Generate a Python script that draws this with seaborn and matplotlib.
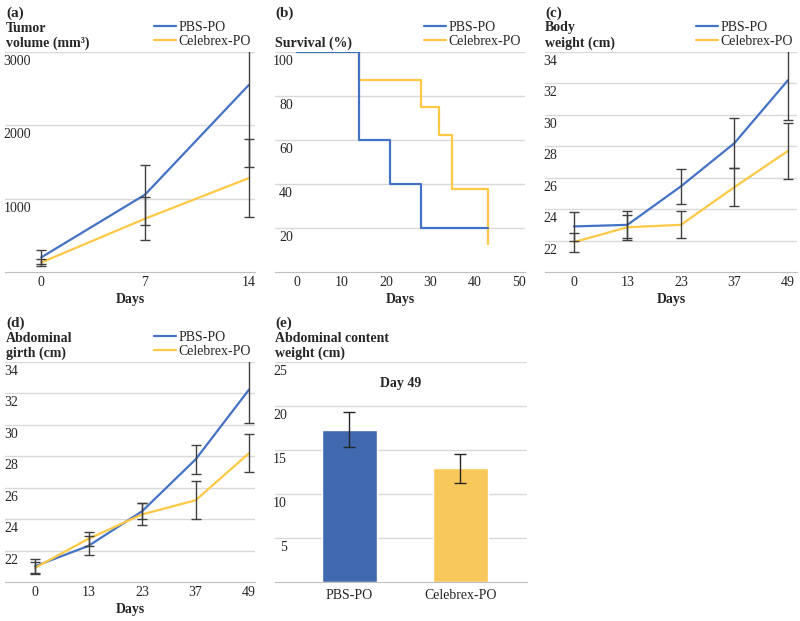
import numpy as np
import matplotlib
matplotlib.use('Agg')
import matplotlib.pyplot as plt
import matplotlib.transforms as mtransforms
import seaborn as sns

# ---- data ----
groups = ['PBS-PO', 'Celebrex-PO']

tumor_days = [0, 7, 14]
tumor_pbs = [200, 1055, 2550]
tumor_pbs_err = [95, 410, 1120]
tumor_cel = [130, 727, 1280]
tumor_cel_err = [50, 295, 530]

surv_pbs_days = [0, 14, 21, 28, 43]
surv_pbs = [100, 60, 40, 20, 20]
surv_cel_days = [0, 14, 28, 32, 35, 43]
surv_cel = [100, 87.5, 75, 62.5, 37.5, 12.5]

week_days = [0, 13, 23, 37, 49]
body_pbs = [22.9, 23.0, 25.45, 28.2, 32.2]
body_pbs_err = [0.9, 0.85, 1.1, 1.6, 2.5]
body_cel = [21.9, 22.85, 23.0, 25.4, 27.7]
body_cel_err = [0.6, 0.8, 0.85, 1.2, 1.8]

girth_pbs = [21.0, 22.3, 24.5, 27.8, 32.25]
girth_pbs_err = [0.45, 0.6, 0.5, 0.95, 2.15]
girth_cel = [20.9, 22.75, 24.3, 25.2, 28.2]
girth_cel_err = [0.4, 0.45, 0.7, 1.2, 1.2]

content_vals = [17.3, 12.9]
content_err = [2.0, 1.65]

# ---- style ----
blue = '#4472C4'
yellow = '#FFC845'
bar_colors = ['#4169B0', '#F9C85A']
grid_c = '#d9d9d9'
err_c = '#404040'

sns.set_style('white')
plt.rcParams['font.family'] = ['Liberation Serif', 'DejaVu Serif']
plt.rcParams['font.size'] = 10

W, H = 800, 621
fig = plt.figure(figsize=(W / 100, H / 100), dpi=100)


def px_axes(x0, x1, y0, y1):
    return fig.add_axes([x0 / W, 1 - y1 / H, (x1 - x0) / W, (y1 - y0) / H])


def ftext(x, y, s, **kw):
    fig.text(x / W, 1 - y / H, s, va='center', ha='left', fontweight='bold', **kw)


def base_style(ax, yticks, label_px, xticks=None, xlabels=None, days=True):
    for s in ['top', 'right', 'left']:
        ax.spines[s].set_visible(False)
    ax.spines['bottom'].set_color('#bfbfbf')
    ax.grid(axis='y', color=grid_c, lw=1)
    ax.set_axisbelow(True)
    ax.set_yticks(yticks)
    ax.tick_params(axis='y', length=0, pad=-label_px * 0.72, labelsize=10, labelcolor='#262626')
    off = mtransforms.ScaledTranslation(0, -8 / 100, fig.dpi_scale_trans)
    for lab in ax.get_yticklabels():
        lab.set_transform(lab.get_transform() + off)
    if xticks is not None:
        ax.set_xticks(xticks)
        if xlabels is not None:
            ax.set_xticklabels(xlabels)
    ax.tick_params(axis='x', direction='in', length=5, color='#bfbfbf', pad=3,
                   labelsize=10, labelcolor='#262626')
    ax.set_ylabel('')
    if days:
        ax.set_xlabel('Days', fontweight='bold', labelpad=3)
    else:
        ax.set_xlabel('')


def add_legend(ax):
    ax.legend(loc='lower right', bbox_to_anchor=(1.0, 1.0), frameon=False,
              borderpad=0, borderaxespad=0.3, labelspacing=0.05,
              handlelength=1.6, handletextpad=0.15, fontsize=10)


def line_panel(ax, days, pbs, pbs_err, cel, cel_err):
    pos = np.arange(len(days))
    sns.lineplot(x=pos, y=pbs, color=blue, lw=1.6, ax=ax, label='PBS-PO')
    sns.lineplot(x=pos, y=cel, color=yellow, lw=1.6, ax=ax, label='Celebrex-PO')
    ax.errorbar(pos, pbs, yerr=pbs_err, fmt='none', ecolor=err_c, elinewidth=1,
                capsize=3.3, capthick=1, zorder=4)
    ax.errorbar(pos, cel, yerr=cel_err, fmt='none', ecolor=err_c, elinewidth=1,
                capsize=3.3, capthick=1, zorder=4)
    return pos


# (a) tumor volume
ax = px_axes(5, 255, 52, 272)
pos = line_panel(ax, tumor_days, tumor_pbs, tumor_pbs_err, tumor_cel, tumor_cel_err)
ax.set_ylim(0, 3000)
ax.set_xlim(-0.35, 2.06)
base_style(ax, [1000, 2000, 3000], 26, pos, tumor_days)
add_legend(ax)
ftext(6, 13, '(a)', fontsize=11)
ftext(6, 28, 'Tumor')
ftext(6, 43, 'volume (mm³)')

# (b) survival
ax = px_axes(275, 525, 52, 272)
sns.lineplot(x=surv_pbs_days, y=surv_pbs, color=blue, lw=1.6, ax=ax,
             label='PBS-PO', drawstyle='steps-post', zorder=3)
sns.lineplot(x=surv_cel_days, y=surv_cel, color=yellow, lw=1.6, ax=ax,
             label='Celebrex-PO', drawstyle='steps-post', zorder=2)
ax.set_ylim(0, 100)
ax.set_xlim(-5, 51.4)
base_style(ax, [20, 40, 60, 80, 100], 18, [0, 10, 20, 30, 40, 50])
add_legend(ax)
ftext(275, 13, '(b)', fontsize=11)
ftext(275, 43, 'Survival (%)')

# (c) body weight
ax = px_axes(545, 797, 52, 272)
pos = line_panel(ax, week_days, body_pbs, body_pbs_err, body_cel, body_cel_err)
ax.set_ylim(20, 34)
ax.set_xlim(-0.54, 4.17)
base_style(ax, [22, 24, 26, 28, 30, 32, 34], 12, pos, week_days)
add_legend(ax)
ftext(545, 13, '(c)', fontsize=11)
ftext(545, 28, 'Body')
ftext(545, 43, 'weight (cm)')

# (d) abdominal girth
ax = px_axes(5, 255, 362, 582)
pos = line_panel(ax, week_days, girth_pbs, girth_pbs_err, girth_cel, girth_cel_err)
ax.set_ylim(20, 34)
ax.set_xlim(-0.56, 4.11)
base_style(ax, [22, 24, 26, 28, 30, 32, 34], 13, pos, week_days)
add_legend(ax)
ftext(6, 323, '(d)', fontsize=11)
ftext(6, 339, 'Abdominal')
ftext(6, 353, 'girth (cm)')

# (e) abdominal content weight
ax = px_axes(275, 527, 362, 582)
sns.barplot(x=groups, y=content_vals, hue=groups, palette=bar_colors, width=0.5,
            saturation=1, legend=False, ax=ax)
ax.errorbar(np.arange(2), content_vals, yerr=content_err, fmt='none', ecolor='#262626',
            elinewidth=1, capsize=4, capthick=1, zorder=4)
ax.set_ylim(0, 25)
ax.set_xlim(-0.67, 1.6)
base_style(ax, [5, 10, 15, 20, 25], 12, days=False)
ax.tick_params(axis='x', length=0, pad=5)
ax.text(0.5, 1 - 21 / 220, 'Day 49', transform=ax.transAxes, ha='center', va='center',
        fontweight='bold', fontsize=10)
ftext(275, 323, '(e)', fontsize=11)
ftext(275, 339, 'Abdominal content')
ftext(275, 353, 'weight (cm)')

fig.savefig('out.png', dpi=100)
